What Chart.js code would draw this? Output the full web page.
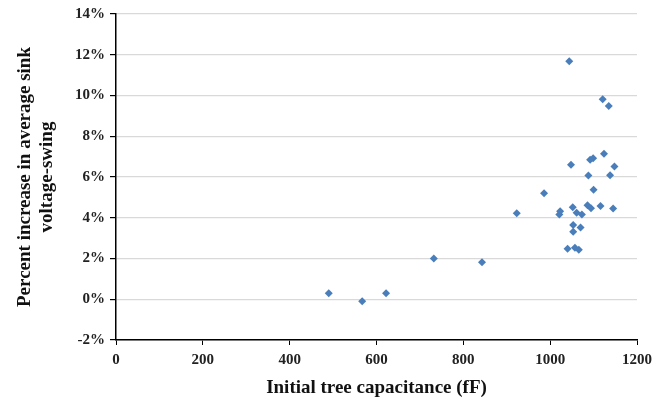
<!DOCTYPE html>
<html>
<head>
<meta charset="utf-8">
<script src="https://cdn.jsdelivr.net/npm/chart.js@4"></script>
<style>
  html, body { margin: 0; padding: 0; background: #fff; }
  #wrap { width: 671px; height: 402px; }
</style>
</head>
<body>
<div id="wrap"><canvas id="chart" width="671" height="402"></canvas></div>
<script>
// initial tree capacitance (fF)
const capacitance = [490, 567, 622, 732, 843, 923, 986, 1023, 1021, 1052, 1061, 1073, 1053, 1053, 1070,
    1040, 1057, 1066, 1086, 1094, 1116, 1145, 1100, 1088, 1138, 1048, 1092, 1099, 1124, 1148, 1044, 1121, 1135];
// percent increase in average sink voltage-swing
const swingIncrease = [0.3, -0.1, 0.3, 2.0, 1.82, 4.22, 5.2, 4.32, 4.16, 4.52, 4.24, 4.16, 3.65, 3.31, 3.52,
    2.48, 2.53, 2.43, 4.61, 4.47, 4.58, 4.45, 5.38, 6.07, 6.08, 6.6, 6.85, 6.92, 7.14, 6.52, 11.68, 9.82, 9.49];

const xTitle = 'Initial tree capacitance (fF)';
const yTitle = ['Percent increase in average sink', 'voltage-swing'];

const points = capacitance.map((x, i) => ({ x: x, y: swingIncrease[i] }));
const serif = 'Liberation Serif, Times New Roman, serif';

const ctx = document.getElementById('chart').getContext('2d');
new Chart(ctx, {
    type: 'scatter',
    data: {
        datasets: [{
            data: points,
            pointStyle: 'rectRot',
            pointRadius: 4,
            pointBackgroundColor: '#4a7ebb',
            pointBorderColor: '#4a7ebb',
            pointBorderWidth: 0
        }]
    },
    options: {
        responsive: false,
        animation: false,
        layout: { padding: { top: 13, right: 34, left: 0, bottom: 0 } },
        plugins: { legend: { display: false }, tooltip: { enabled: false } },
        scales: {
            x: {
                min: 0, max: 1200,
                ticks: {
                    stepSize: 200, padding: 6, color: '#222',
                    font: { family: serif, size: 15, weight: 'bold' },
                    callback: v => String(v)
                },
                grid: { drawOnChartArea: false, tickColor: '#000', tickLength: 5 },
                border: { color: '#000', width: 1.5 },
                title: {
                    display: true, text: xTitle, color: '#111',
                    font: { family: serif, size: 19, weight: 'bold', lineHeight: 1.15 },
                    padding: { top: 0, bottom: 3 }
                },
                afterFit: (scale) => { scale.height = 62; }
            },
            y: {
                min: -2, max: 14,
                ticks: {
                    stepSize: 2, padding: 5, color: '#222',
                    font: { family: serif, size: 15, weight: 'bold' },
                    callback: v => v + '%'
                },
                grid: { color: '#d9d9d9', tickColor: '#000', tickLength: 6, lineWidth: 1.2 },
                border: { color: '#000', width: 1.5 },
                title: {
                    display: true, text: yTitle, color: '#111',
                    font: { family: serif, size: 19, weight: 'bold', lineHeight: 1.15 },
                    padding: { top: 14, bottom: 0 }
                },
                afterFit: (scale) => { scale.width = 116; }
            }
        }
    }
});
</script>
</body>
</html>
